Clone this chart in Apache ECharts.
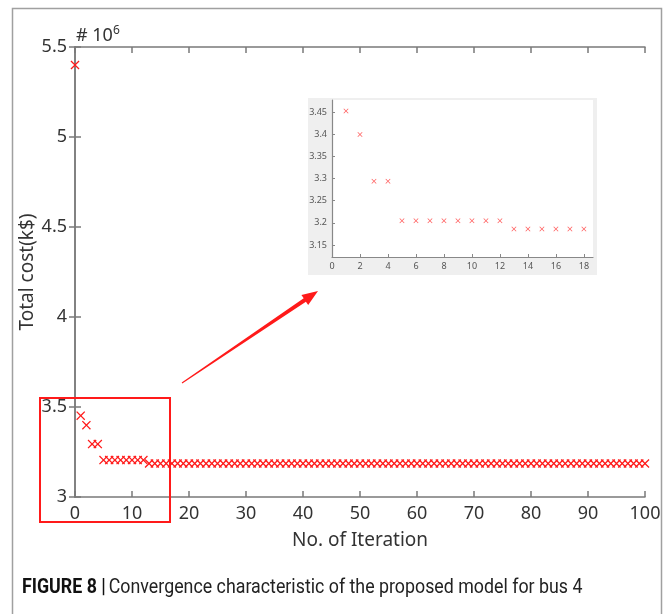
<!DOCTYPE html>
<html>
<head>
<meta charset="utf-8">
<script src="https://cdn.jsdelivr.net/npm/echarts@6/dist/echarts.min.js"></script>
<style>
  html, body { margin: 0; padding: 0; background: #fff; }
  #main { width: 670px; height: 614px; }
</style>
</head>
<body>
<div id="main"></div>
<script>
;(function () {
  // main plot: iterations 0..100, total cost in 10^6 k$
  const iterations = [
    0, 1, 2, 3, 4, 5, 6, 7, 8, 9, 10, 11, 12, 13, 14, 15, 16, 17, 18, 19, 20,
    21, 22, 23, 24, 25, 26, 27, 28, 29, 30, 31, 32, 33, 34, 35, 36, 37, 38, 39, 40,
    41, 42, 43, 44, 45, 46, 47, 48, 49, 50, 51, 52, 53, 54, 55, 56, 57, 58, 59, 60,
    61, 62, 63, 64, 65, 66, 67, 68, 69, 70, 71, 72, 73, 74, 75, 76, 77, 78, 79, 80,
    81, 82, 83, 84, 85, 86, 87, 88, 89, 90, 91, 92, 93, 94, 95, 96, 97, 98, 99, 100,
  ]
  const totalCost = [
    5.4, 3.452, 3.399, 3.294, 3.294, 3.205, 3.205, 3.205, 3.205, 3.205, 3.205, 3.205, 3.205,
    3.186, 3.186, 3.186, 3.186, 3.186, 3.186, 3.186, 3.186, 3.186, 3.186, 3.186, 3.186,
    3.186, 3.186, 3.186, 3.186, 3.186, 3.186, 3.186, 3.186, 3.186, 3.186, 3.186, 3.186,
    3.186, 3.186, 3.186, 3.186, 3.186, 3.186, 3.186, 3.186, 3.186, 3.186, 3.186, 3.186,
    3.186, 3.186, 3.186, 3.186, 3.186, 3.186, 3.186, 3.186, 3.186, 3.186, 3.186, 3.186,
    3.186, 3.186, 3.186, 3.186, 3.186, 3.186, 3.186, 3.186, 3.186, 3.186, 3.186, 3.186,
    3.186, 3.186, 3.186, 3.186, 3.186, 3.186, 3.186, 3.186, 3.186, 3.186, 3.186, 3.186,
    3.186, 3.186, 3.186, 3.186, 3.186, 3.186, 3.186, 3.186, 3.186, 3.186, 3.186, 3.186,
    3.186, 3.186, 3.186, 3.186,
  ]

  // zoomed inset: iterations 1..18
  const insetIterations = [1, 2, 3, 4, 5, 6, 7, 8, 9, 10, 11, 12, 13, 14, 15, 16, 17, 18]
  const insetCost = [
    3.452, 3.399, 3.294, 3.294, 3.205, 3.205, 3.205, 3.205, 3.205, 3.205, 3.205, 3.205,
    3.186, 3.186, 3.186, 3.186, 3.186, 3.186,
  ]
  const insetXTicks = [0, 2, 4, 6, 8, 10, 12, 14, 16, 18]
  const insetYTicks = [3.15, 3.2, 3.25, 3.3, 3.35, 3.4, 3.45]

  const cross = 'path://M0,1L1,0L5,4L9,0L10,1L6,5L10,9L9,10L5,6L1,10L0,9L4,5Z'
  const font = "'Noto Sans', 'DejaVu Sans', sans-serif"
  const axisGray = '#7a7a7a'

  const pairs = (xs, ys) => xs.map((x, i) => [x, ys[i]])

  const mainAxisBase = {
    type: 'value',
    axisLine: { show: true, lineStyle: { color: axisGray, width: 1.5 } },
    axisTick: { show: true, inside: true, length: 6, lineStyle: { color: axisGray, width: 1.5 } },
    splitLine: { show: false },
  }

  const chart = echarts.init(document.getElementById('main'), null, { renderer: 'canvas' })

  chart.setOption({
    animation: false,
    backgroundColor: '#fff',
    grid: [
      { left: 75, right: 25, top: 47, bottom: 117 },
      { left: 332, right: 77, top: 100, bottom: 357, show: true, backgroundColor: '#fff', borderWidth: 0 },
    ],
    xAxis: [
      {
        ...mainAxisBase,
        gridIndex: 0,
        min: 0,
        max: 100,
        interval: 10,
        axisLabel: { color: '#333', fontSize: 18, fontFamily: font, margin: 8 },
        name: 'No. of Iteration',
        nameLocation: 'middle',
        nameGap: 34,
        nameTextStyle: { color: '#333', fontSize: 19, fontFamily: font },
      },
      {
        ...mainAxisBase,
        gridIndex: 0,
        position: 'top',
        min: 0,
        max: 100,
        interval: 10,
        axisLabel: { show: false },
      },
      {
        type: 'value',
        gridIndex: 1,
        min: 0,
        max: 18.65,
        axisLine: { show: true, lineStyle: { color: '#888', width: 1.2 } },
        axisTick: { show: true, inside: true, length: 3, customValues: insetXTicks, lineStyle: { color: '#888' } },
        axisLabel: { color: '#555', fontSize: 9, fontFamily: font, margin: 5, customValues: insetXTicks },
        splitLine: { show: false },
      },
    ],
    yAxis: [
      {
        ...mainAxisBase,
        gridIndex: 0,
        min: 3,
        max: 5.5,
        interval: 0.5,
        axisLabel: { color: '#333', fontSize: 18, fontFamily: font, margin: 8 },
        name: 'Total cost(k$)',
        nameLocation: 'middle',
        nameGap: 38,
        nameMoveOverlap: false,
        nameTextStyle: { color: '#333', fontSize: 19, fontFamily: font },
      },
      {
        ...mainAxisBase,
        gridIndex: 0,
        position: 'right',
        min: 3,
        max: 5.5,
        interval: 0.5,
        axisLabel: { show: false },
      },
      {
        type: 'value',
        gridIndex: 1,
        min: 3.123,
        max: 3.477,
        axisLine: { show: true, lineStyle: { color: '#888', width: 1.2 } },
        axisTick: { show: true, inside: true, length: 3, customValues: insetYTicks, lineStyle: { color: '#888' } },
        axisLabel: { color: '#555', fontSize: 9, fontFamily: font, margin: 5, customValues: insetYTicks },
        splitLine: { show: false },
      },
    ],
    series: [
      {
        type: 'scatter',
        xAxisIndex: 0,
        yAxisIndex: 0,
        symbol: cross,
        symbolSize: 9,
        itemStyle: { color: '#ff1a1a', opacity: 1 },
        data: pairs(iterations, totalCost),
        z: 5,
      },
      {
        type: 'scatter',
        xAxisIndex: 2,
        yAxisIndex: 2,
        symbol: cross,
        symbolSize: 5,
        itemStyle: { color: '#ff5c5c', opacity: 1 },
        data: pairs(insetIterations, insetCost),
        z: 5,
      },
    ],
    graphic: [
      // figure frame
      {
        type: 'rect',
        shape: { x: 12.5, y: 8.5, width: 649, height: 640 },
        style: { fill: 'none', stroke: '#a0a0a0', lineWidth: 1.5 },
        z: 0,
      },
      // inset panel background
      {
        type: 'rect',
        shape: { x: 308, y: 98, width: 289, height: 177 },
        style: { fill: '#efefef' },
        z: -1,
        silent: true,
      },
      // highlight box
      {
        type: 'rect',
        shape: { x: 40, y: 398, width: 130, height: 124 },
        style: { fill: 'none', stroke: '#ff1a1a', lineWidth: 2 },
        z: 10,
      },
      // arrow to inset
      {
        type: 'polygon',
        shape: {
          points: [
            [182.3, 383.4],
            [305.9, 301.7],
            [308.2, 305.0],
            [318.0, 291.0],
            [301.4, 295.0],
            [303.7, 298.3],
            [181.7, 382.6],
          ],
        },
        style: { fill: '#ff1a1a' },
        z: 10,
      },
      // exponent label
      {
        type: 'text',
        left: 76,
        top: 25,
        style: {
          text: '# 10{sup|6}',
          fill: '#333',
          font: `18px ${font}`,
          rich: { sup: { fontSize: 12, fontFamily: font, verticalAlign: 'top', padding: [0, 0, 10, 0], fill: '#333' } },
        },
      },
      // caption, slightly condensed
      {
        type: 'text',
        x: 22,
        y: 578,
        scaleX: 0.89,
        style: {
          text: '{b|FIGURE 8 |} {r|Convergence characteristic of the proposed model for bus 4}',
          fill: '#222',
          rich: {
            b: { fontSize: 20, fontWeight: 'bold', fontFamily: 'Roboto, sans-serif', fill: '#111' },
            r: { fontSize: 20, fontFamily: 'Roboto, sans-serif', fill: '#222' },
          },
        },
      },
    ],
  })
})()
</script>
</body>
</html>
